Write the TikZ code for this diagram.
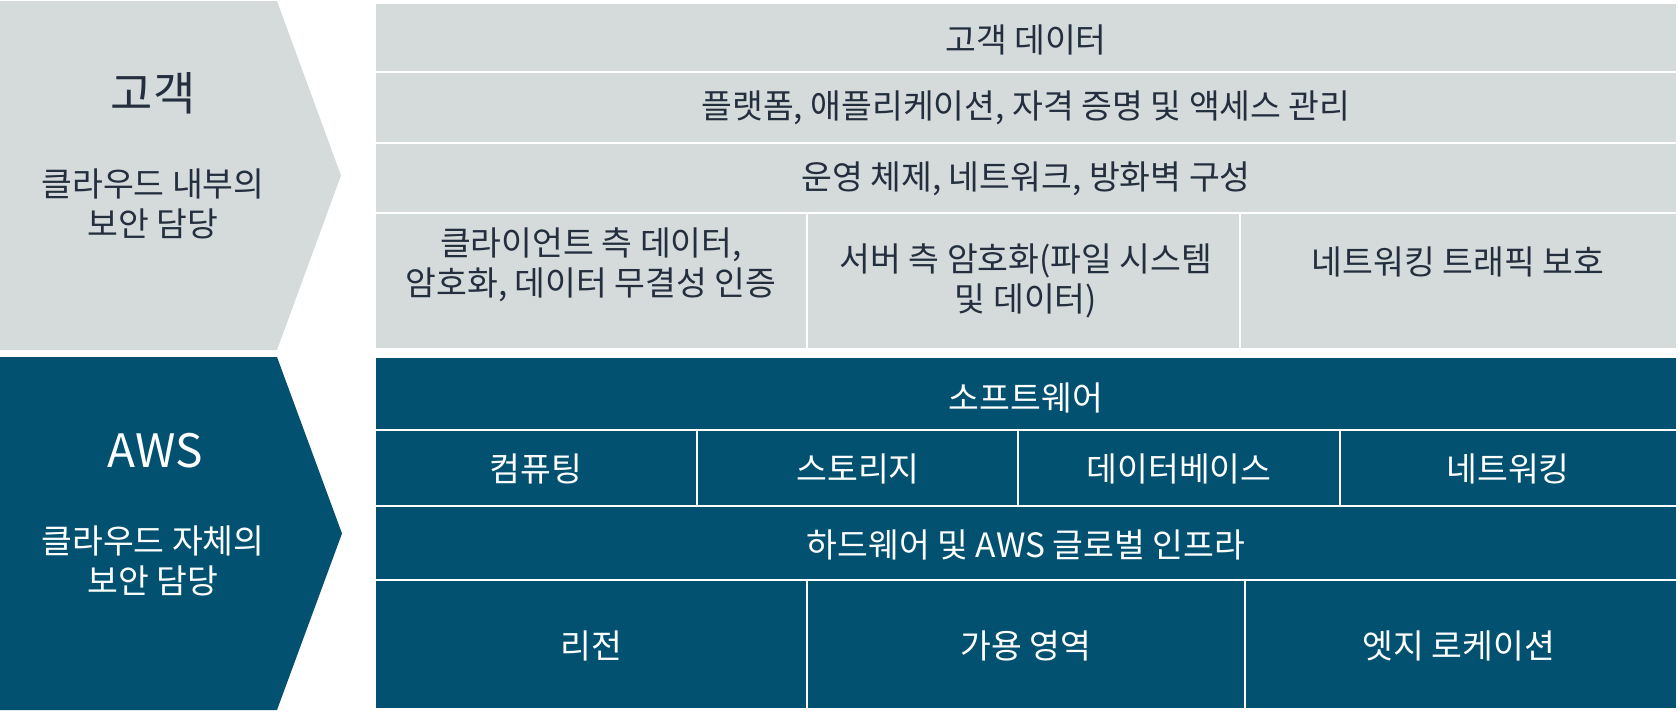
\documentclass[tikz,border=0pt]{standalone}
\usepackage{fontspec}
\setmainfont{Noto Sans CJK KR}
\definecolor{cgray}{HTML}{D5DBDB}
\definecolor{cblue}{HTML}{035170}
\definecolor{ink}{HTML}{232F3E}
\tikzset{
  cellbase/.style={draw=white, line width=2pt, anchor=north west, inner sep=0pt, outer sep=0pt},
  gcell/.style={cellbase, fill=cgray},
  bcell/.style={cellbase, fill=cblue},
  gtxt/.style={text=ink, font=\fontsize{33.5}{40}\selectfont, align=center, inner sep=0pt},
  btxt/.style={text=white, font=\fontsize{33.5}{40}\selectfont, align=center, inner sep=0pt},
  gtitle/.style={text=ink, font=\fontsize{46}{52}\selectfont, inner sep=0pt},
  btitle/.style={text=white, font=\fontsize{46}{52}\selectfont, inner sep=0pt},
}
\begin{document}
\begin{tikzpicture}[x=1pt,y=-1pt]
\useasboundingbox (0,0) rectangle (1680,712);
% left chevrons
\fill[cgray] (0,1) -- (277,1) -- (341,175.5) -- (277,350) -- (0,350) -- cycle;
\fill[cblue] (0,357) -- (277,357) -- (342,533.5) -- (277,710) -- (0,710) -- cycle;
\node[gtitle] (tcust) at (153,93) {고객};
\node[gtxt] (scust) at (153,204) {클라우드 내부의\\보안 담당};
\node[btitle] (taws) at (155,451) {AWS};
\node[btxt] (saws) at (153,561) {클라우드 자체의\\보안 담당};
% customer grid
\node[gcell, minimum width=1302pt, minimum height=69pt] (g1) at (375,3) {};
\node[gcell, minimum width=1302pt, minimum height=71pt] (g2) at (375,72) {};
\node[gcell, minimum width=1302pt, minimum height=70pt] (g3) at (375,143) {};
\node[gcell, minimum width=432pt, minimum height=136pt] (g4a) at (375,213) {};
\node[gcell, minimum width=433pt, minimum height=136pt] (g4b) at (807,213) {};
\node[gcell, minimum width=437pt, minimum height=136pt] (g4c) at (1240,213) {};
\node[gtxt] (tg1) at (1026,40) {고객 데이터};
\node[gtxt] (tg2) at (1026,108) {플랫폼, 애플리케이션, 자격 증명 및 액세스 관리};
\node[gtxt] (tg3) at (1026,179) {운영 체제, 네트워크, 방화벽 구성};
\node[gtxt] (tg4a) at (591,265) {클라이언트 측 데이터,\\암호화, 데이터 무결성 인증};
\node[gtxt] (tg4b) at (1026,281) {서버 측 암호화(파일 시스템\\및 데이터)};
\node[gtxt] (tg4c) at (1458,262) {네트워킹 트래픽 보호};
% AWS grid
\node[bcell, minimum width=1302pt, minimum height=73pt] (b1) at (375,357) {};
\node[bcell, minimum width=322pt, minimum height=76pt] (b2a) at (375,430) {};
\node[bcell, minimum width=321pt, minimum height=76pt] (b2b) at (697,430) {};
\node[bcell, minimum width=322pt, minimum height=76pt] (b2c) at (1018,430) {};
\node[bcell, minimum width=337pt, minimum height=76pt] (b2d) at (1340,430) {};
\node[bcell, minimum width=1302pt, minimum height=74pt] (b3) at (375,506) {};
\node[bcell, minimum width=432pt, minimum height=129pt] (b4a) at (375,580) {};
\node[bcell, minimum width=438pt, minimum height=129pt] (b4b) at (807,580) {};
\node[bcell, minimum width=432pt, minimum height=129pt] (b4c) at (1245,580) {};
\node[btxt] (tb1) at (1026,398) {소프트웨어};
\node[btxt] (tb2a) at (536,469) {컴퓨팅};
\node[btxt] (tb2b) at (858,469) {스토리지};
\node[btxt] (tb2c) at (1179,469) {데이터베이스};
\node[btxt] (tb2d) at (1508,469) {네트워킹};
\node[btxt] (tb3) at (1026,545) {하드웨어 및 AWS 글로벌 인프라};
\node[btxt] (tb4a) at (591,646) {리전};
\node[btxt] (tb4b) at (1026,646) {가용 영역};
\node[btxt] (tb4c) at (1459,646) {엣지 로케이션};
\end{tikzpicture}
\end{document}
